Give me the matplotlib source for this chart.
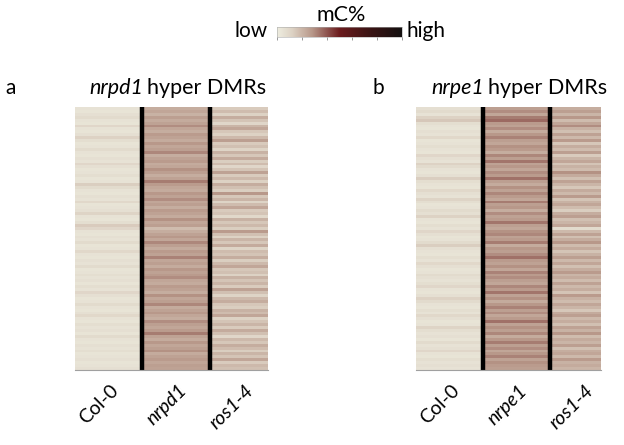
import numpy as np
import matplotlib
matplotlib.use('Agg')
import matplotlib.pyplot as plt
from matplotlib.colors import LinearSegmentedColormap

plt.rcParams['font.family'] = ['Lato', 'DejaVu Sans']

# mC% per DMR (rows top to bottom), scaled 0 (low) .. 1 (high)
col0_a = [0.05,0.04,0.06,0.08,0.05,0.04,0.10,0.05,0.04,0.06,0.12,0.07,0.04,0.05,0.08,0.05,0.04,0.06,0.05,0.10,
          0.06,0.04,0.05,0.07,0.04,0.05,0.13,0.08,0.05,0.04,0.06,0.05,0.09,0.04,0.05,0.06,0.11,0.05,0.04,0.07,
          0.14,0.10,0.05,0.04,0.06,0.05,0.08,0.04,0.05,0.09,0.05,0.04,0.06,0.05,0.08,0.04,0.05,0.07,0.05,0.06,
          0.04,0.07,0.05,0.10,0.06,0.04,0.05,0.08,0.05,0.04,0.06,0.09,0.05,0.04,0.07,0.05,0.06,0.04,0.08,0.05,
          0.04,0.06,0.05,0.07,0.04,0.05,0.06,0.04,0.05,0.06]
nrpd1_a = [0.22,0.24,0.21,0.26,0.23,0.25,0.30,0.24,0.22,0.27,0.25,0.23,0.28,0.24,0.26,0.31,0.22,0.25,0.27,0.23,
           0.24,0.29,0.26,0.22,0.25,0.33,0.27,0.24,0.23,0.28,0.25,0.30,0.24,0.26,0.22,0.27,0.25,0.23,0.29,0.24,
           0.26,0.18,0.22,0.25,0.28,0.24,0.31,0.26,0.23,0.27,0.25,0.32,0.24,0.26,0.23,0.28,0.25,0.27,0.30,0.24,
           0.23,0.27,0.25,0.22,0.29,0.24,0.26,0.31,0.23,0.25,0.28,0.24,0.22,0.30,0.26,0.24,0.27,0.33,0.25,0.23,
           0.28,0.24,0.26,0.29,0.23,0.25,0.27,0.24,0.26,0.25]
ros_a = [0.14,0.18,0.12,0.22,0.16,0.10,0.20,0.24,0.15,0.12,0.19,0.26,0.14,0.17,0.11,0.21,0.15,0.23,0.13,0.18,
         0.10,0.16,0.25,0.14,0.19,0.12,0.22,0.17,0.13,0.28,0.15,0.20,0.11,0.18,0.24,0.14,0.16,0.09,0.21,0.15,
         0.19,0.13,0.27,0.17,0.12,0.20,0.15,0.23,0.11,0.18,0.16,0.22,0.13,0.19,0.24,0.15,0.17,0.12,0.21,0.16,
         0.20,0.14,0.25,0.17,0.11,0.19,0.22,0.15,0.13,0.21,0.18,0.24,0.12,0.16,0.20,0.14,0.23,0.17,0.10,0.19,
         0.15,0.22,0.18,0.13,0.20,0.16,0.24,0.14,0.19,0.17]

col0_b = [0.06,0.08,0.05,0.12,0.15,0.07,0.05,0.04,0.06,0.05,0.09,0.04,0.05,0.07,0.05,0.04,0.10,0.06,0.05,0.12,
          0.08,0.05,0.04,0.06,0.13,0.07,0.05,0.04,0.09,0.06,0.05,0.11,0.07,0.04,0.05,0.08,0.06,0.12,0.05,0.04,
          0.07,0.05,0.10,0.06,0.04,0.05,0.08,0.13,0.06,0.05,0.04,0.07,0.05,0.09,0.06,0.04,0.05,0.08,0.06,0.05,
          0.07,0.10,0.05,0.04,0.06,0.12,0.08,0.05,0.04,0.07,0.05,0.09,0.06,0.04,0.05,0.11,0.07,0.05,0.06,0.04,
          0.08,0.05,0.06,0.10,0.05,0.04,0.07,0.05,0.06,0.05]
nrpe1_b = [0.26,0.30,0.24,0.33,0.36,0.27,0.25,0.30,0.23,0.28,0.32,0.26,0.24,0.29,0.27,0.22,0.31,0.26,0.34,0.25,
           0.28,0.24,0.30,0.27,0.35,0.26,0.23,0.29,0.25,0.31,0.27,0.24,0.33,0.26,0.28,0.22,0.30,0.25,0.27,0.34,
           0.26,0.24,0.29,0.31,0.25,0.27,0.33,0.23,0.28,0.26,0.30,0.35,0.27,0.25,0.29,0.24,0.32,0.27,0.30,0.26,
           0.24,0.31,0.27,0.34,0.25,0.29,0.23,0.28,0.32,0.26,0.30,0.24,0.27,0.35,0.25,0.29,0.26,0.31,0.23,0.28,
           0.33,0.26,0.30,0.24,0.28,0.32,0.25,0.29,0.27,0.26]
ros_b = [0.22,0.26,0.20,0.28,0.18,0.24,0.30,0.21,0.17,0.25,0.19,0.27,0.15,0.22,0.18,0.26,0.14,0.20,0.24,0.16,
         0.21,0.18,0.29,0.23,0.17,0.25,0.20,0.15,0.23,0.19,0.27,0.16,0.21,0.24,0.18,0.13,0.22,0.26,0.17,0.20,
         0.24,0.08,0.19,0.25,0.17,0.22,0.28,0.18,0.23,0.16,0.21,0.26,0.19,0.24,0.17,0.22,0.27,0.20,0.23,0.18,
         0.25,0.19,0.22,0.16,0.27,0.21,0.18,0.24,0.20,0.15,0.23,0.26,0.19,0.22,0.17,0.25,0.21,0.28,0.18,0.23,
         0.20,0.26,0.17,0.22,0.24,0.19,0.27,0.21,0.23,0.20]

samples_a = ['Col-0', 'nrpd1', 'ros1-4']
samples_b = ['Col-0', 'nrpe1', 'ros1-4']

cmap = LinearSegmentedColormap.from_list('mc', [(0, '#eeede0'), (0.12, '#ddd2c4'), (0.28, '#b8988a'),
                                                (0.5, '#6c1c1e'), (0.75, '#3a1414'), (1, '#141010')])

fig = plt.figure(figsize=(6.24, 4.45), dpi=100)
W, H = 624, 445
fig.canvas.draw()
renderer = fig.canvas.get_renderer()

def panel(left, right, xmax, data, samples, letter, gene, lx, tx):
    ax = fig.add_axes([left / W, 1 - 370 / H, (right - left) / W, 263 / H])
    mat = np.array(data).T
    ax.imshow(mat, aspect='auto', cmap=cmap, vmin=0, vmax=1, interpolation='nearest')
    ax.set_xlim(-0.5, xmax)
    for x in [0.5, 1.5]:
        ax.axvline(x, color='black', lw=3.2)
    ax.set_xticks([])
    ax.set_yticks([])
    for s in ax.spines.values():
        s.set_visible(False)
    ax.spines['bottom'].set_visible(True)
    ax.spines['bottom'].set_color('#a0a0a0')
    for i, name in enumerate(samples):
        style = 'normal' if name == 'Col-0' else 'italic'
        ax.text(i + 0.02, -0.045, name, transform=ax.get_xaxis_transform(), rotation=45,
                rotation_mode='anchor', ha='right', va='top', fontsize=14, style=style)
    fig.text(lx / W, 1 - 88 / H, letter, fontsize=15, ha='left', va='center')
    t = fig.text(tx / W, 1 - 88 / H, gene, fontsize=15.5, style='italic', ha='left', va='center')
    bb = t.get_window_extent(renderer)
    fig.text(bb.x1 / W + 0.007, 1 - 88 / H, 'hyper DMRs', fontsize=15.5, ha='left', va='center')

panel(75, 268, 2.36, [col0_a, nrpd1_a, ros_a], samples_a, 'a', 'nrpd1', 5, 89)
panel(416, 601, 2.26, [col0_b, nrpe1_b, ros_b], samples_b, 'b', 'nrpe1', 373, 431)

# colour key
cax = fig.add_axes([277 / W, 1 - 37 / H, 125 / W, 10 / H])
cax.imshow(np.linspace(0, 1, 256)[None, :], aspect='auto', cmap=cmap, extent=[0, 1, 0, 1])
cax.set_yticks([])
cax.set_xticks([0, 0.2, 0.4, 0.6, 0.8, 1.0])
cax.tick_params(axis='x', length=2, width=0.6, color='#888888', labelbottom=False)
for s in cax.spines.values():
    s.set_linewidth(0.4)
    s.set_color('#aaaaaa')
fig.text(341 / W, 1 - 15 / H, 'mC%', fontsize=15.5, ha='center', va='center')
fig.text(268 / W, 1 - 31 / H, 'low', fontsize=15, ha='right', va='center')
fig.text(406 / W, 1 - 31 / H, 'high', fontsize=15, ha='left', va='center')

fig.savefig('out.png', dpi=100)
